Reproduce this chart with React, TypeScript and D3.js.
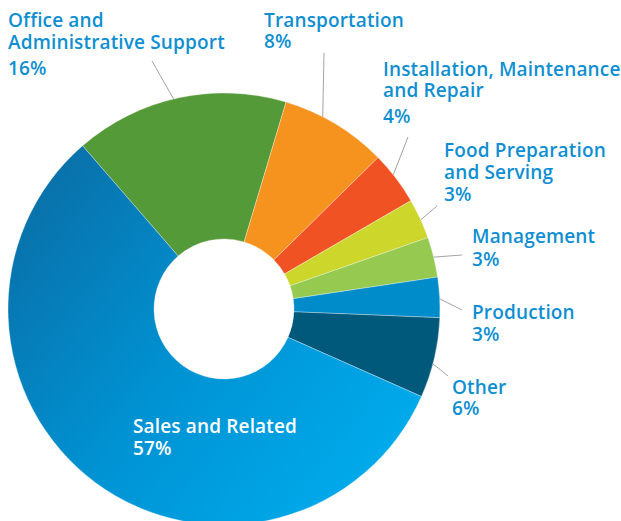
import React from 'react';
import * as d3 from 'd3';

// occupation shares, clockwise starting at the Office slice
const categories = [
  'Office and Administrative Support',
  'Transportation',
  'Installation, Maintenance and Repair',
  'Food Preparation and Serving',
  'Management',
  'Production',
  'Other',
  'Sales and Related',
];
const shares = [16, 8, 4, 3, 3, 3, 6, 57];
const sliceColors = ['#559a38', '#f6921e', '#f05223', '#cdd62b', '#95c950', '#008bcb', '#00587b', 'url(#salesGrad)'];

// label text lines per slice (last line is the share)
const labelLines = [
  ['Office and', 'Administrative Support'],
  ['Transportation'],
  ['Installation, Maintenance', 'and Repair'],
  ['Food Preparation', 'and Serving'],
  ['Management'],
  ['Production'],
  ['Other'],
  ['Sales and Related'],
];

// label placement: text left x, baselines, leader angle on rim (deg) and leader outer end
const labelLayout = [
  { x: 8, ys: [27, 49, 75], angle: -13.5, lx: 152, ly: 61 },
  { x: 264, ys: [27, 48], angle: 27.2, lx: 324, ly: 53 },
  { x: 383, ys: [76, 97, 123], angle: 51.6, lx: 408, ly: 137 },
  { x: 444, ys: [157, 179, 201], angle: 65.6, lx: 437, ly: 206 },
  { x: 472, ys: [243, 266], angle: 76.1, lx: 462, ly: 255 },
  { x: 472, ys: [319, 341], angle: 87.3, lx: 462, ly: 310 },
  { x: 452, ys: [394, 415], angle: 104.7, lx: 448, ly: 376 },
  { x: 133, ys: [433, 455], angle: null, lx: 0, ly: 0 },
];

const W = 621, H = 521;
const cx = 224, cy = 309;
const outerR = 216, innerR = 70;
const startDeg = -40.9;

export default function App() {
  const ref = React.useRef<SVGSVGElement>(null);

  React.useEffect(() => {
    const svg = d3.select(ref.current);
    svg.selectAll('*').remove();

    // gradient coords are in the pie group's space (origin at centre)
    const defs = svg.append('defs');
    const grad = defs.append('linearGradient')
      .attr('id', 'salesGrad')
      .attr('gradientUnits', 'userSpaceOnUse')
      .attr('x1', -190).attr('y1', -150)
      .attr('x2', 200).attr('y2', 160);
    grad.append('stop').attr('offset', '0%').attr('stop-color', '#0a6ea6');
    grad.append('stop').attr('offset', '50%').attr('stop-color', '#0093d4');
    grad.append('stop').attr('offset', '100%').attr('stop-color', '#00aeef');

    const start = startDeg * Math.PI / 180;
    const pie = d3.pie<number>().sort(null).value(d => d)
      .startAngle(start).endAngle(start + 2 * Math.PI);
    const arc = d3.arc<d3.PieArcDatum<number>>().innerRadius(innerR).outerRadius(outerR);

    const g = svg.append('g').attr('transform', `translate(${cx},${cy})`);
    g.selectAll('path')
      .data(pie(shares))
      .enter()
      .append('path')
      .attr('d', arc)
      .attr('fill', (d, i) => sliceColors[i])
      .attr('stroke', 'rgba(255,255,255,0.55)')
      .attr('stroke-width', 0.6);

    // leader lines
    labelLayout.forEach((l) => {
      if (l.angle === null) return;
      const a = l.angle * Math.PI / 180;
      svg.append('line')
        .attr('x1', cx + Math.sin(a) * outerR)
        .attr('y1', cy - Math.cos(a) * outerR)
        .attr('x2', l.lx)
        .attr('y2', l.ly)
        .attr('stroke', '#a3a3a3')
        .attr('stroke-width', 1);
    });

    // labels
    labelLayout.forEach((l, i) => {
      const lines = labelLines[i].concat([shares[i] + '%']);
      const t = svg.append('text')
        .attr('font-family', '"Open Sans", sans-serif')
        .attr('font-weight', 600)
        .attr('font-size', 19)
        .attr('letter-spacing', 0.15)
        .attr('fill', i === 7 ? '#ffffff' : '#0f8fd1');
      lines.forEach((s, k) => {
        t.append('tspan').attr('x', l.x).attr('y', l.ys[k]).text(s);
      });
    });
  }, []);

  return (
    <div style={{ position: 'absolute', left: 0, top: 0, width: W, height: H, background: '#fff' }}>
      <svg ref={ref} width={W} height={H} style={{ display: 'block' }} />
    </div>
  );
}
